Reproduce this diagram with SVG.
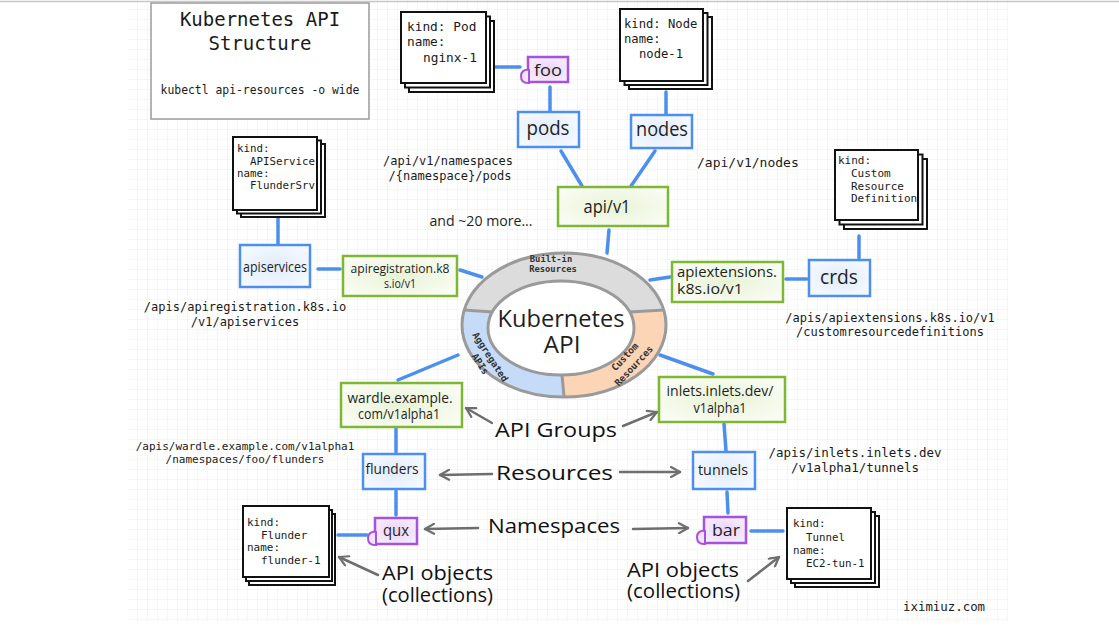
<svg xmlns="http://www.w3.org/2000/svg" width="1119" height="628" viewBox="0 0 1119 628">
<defs>
<pattern id="grid" width="10" height="10" patternUnits="userSpaceOnUse" x="128" y="0">
<path d="M10,0 V10 M0,10 H10" fill="none" stroke="#ededed" stroke-width="1"/>
</pattern>
<radialGradient id="gBlue" cx="0.5" cy="0.5" r="0.65"><stop offset="0" stop-color="#dfebfc"/><stop offset="1" stop-color="#f8fbff"/></radialGradient>
<radialGradient id="gGreen" cx="0.5" cy="0.5" r="0.65"><stop offset="0" stop-color="#e8f3d6"/><stop offset="1" stop-color="#fbfdf6"/></radialGradient>
<radialGradient id="gPurple" cx="0.5" cy="0.5" r="0.65"><stop offset="0" stop-color="#ead3f8"/><stop offset="1" stop-color="#f8effd"/></radialGradient>
<marker id="arr" viewBox="0 0 12 12" markerWidth="12" markerHeight="12" refX="10.5" refY="6" orient="auto" markerUnits="userSpaceOnUse">
<path d="M1.5,1 L10.5,6 L1.5,11" fill="none" stroke="#6e6e6e" stroke-width="2.2" stroke-linecap="round" stroke-linejoin="round"/>
</marker>
</defs>
<style>
.mono{font-family:"DejaVu Sans Mono","Liberation Mono",monospace;fill:#1a1a1a}
.monob{font-family:"DejaVu Sans Mono","Liberation Mono",monospace;font-weight:bold;fill:#333}
.hand{font-family:"Open Sans","Noto Sans",sans-serif;fill:#1f1f1f;text-anchor:middle}
.big{font-family:"Open Sans","Noto Sans",sans-serif;fill:#111;font-size:20px}
.doc rect{fill:#fff;stroke:#111;stroke-width:2}
.blue{fill:url(#gBlue);stroke:#4d8fee;stroke-width:2.5}
.green{fill:url(#gGreen);stroke:#7db733;stroke-width:2.5}
.purple{fill:url(#gPurple);stroke:#a552dc;stroke-width:2.5}
.curl{fill:#f3e4fb;stroke:#a552dc;stroke-width:2}
#connectors line{stroke:#4d8fee;stroke-width:3.5;stroke-linecap:round}
#arrows line{stroke:#6e6e6e;stroke-width:2.5;stroke-linecap:round;marker-end:url(#arr)}
.ring{fill:none;stroke:#9a9a9a;stroke-width:3}
</style>

<rect x="0" y="0" width="1119" height="628" fill="#fff"/>
<rect x="128" y="0" width="880" height="622" fill="url(#grid)"/>
<line x1="0" y1="1.5" x2="1119" y2="1.5" stroke="#c8c8c8" stroke-width="1.5"/>

<g id="title">
<rect x="151" y="3" width="218" height="116" fill="#fff" stroke="#9a9a9a" stroke-width="1.5"/>
<text class="mono" font-size="19" text-anchor="middle" x="260" y="26">Kubernetes API</text>
<text class="mono" font-size="19" text-anchor="middle" x="260" y="50">Structure</text>
<text class="mono" font-size="11.4" text-anchor="middle" x="260" y="94">kubectl api-resources -o wide</text>
</g>

<g id="connectors">
<line x1="495" y1="67" x2="520" y2="67"/>
<line x1="550" y1="87" x2="550" y2="111"/>
<line x1="666" y1="92" x2="666" y2="114"/>
<line x1="561" y1="151" x2="582" y2="186"/>
<line x1="655" y1="151" x2="631" y2="186"/>
<line x1="609" y1="230" x2="607" y2="253"/>
<line x1="278" y1="218" x2="278" y2="244"/>
<line x1="318" y1="269" x2="340" y2="269"/>
<line x1="460" y1="270" x2="482" y2="277"/>
<line x1="650" y1="280" x2="670" y2="277"/>
<line x1="786" y1="279" x2="807" y2="279"/>
<line x1="859" y1="236" x2="859" y2="258"/>
<line x1="458" y1="355" x2="398" y2="380"/>
<line x1="396" y1="429" x2="396" y2="452"/>
<line x1="396" y1="491" x2="396" y2="515"/>
<line x1="338" y1="535" x2="367" y2="535"/>
<line x1="660" y1="355" x2="713" y2="374"/>
<line x1="724" y1="424" x2="726" y2="451"/>
<line x1="727" y1="492" x2="728" y2="513"/>
<line x1="751" y1="531" x2="783" y2="531"/>
</g>

<g id="arrows">
<line x1="492" y1="423" x2="466" y2="408"/>
<line x1="623" y1="426" x2="657" y2="412"/>
<line x1="492" y1="474" x2="440" y2="475"/>
<line x1="620" y1="472" x2="680" y2="472"/>
<line x1="478" y1="528" x2="425" y2="529"/>
<line x1="633" y1="529" x2="688" y2="528"/>
<line x1="378" y1="575" x2="339" y2="557"/>
<line x1="748" y1="581" x2="779" y2="557"/>
</g>

<g id="kubernetes-api">
<path d="M464.2,310 A102,72 0 0 1 663.8,310 L629.6,311.9 A73,47 0 0 0 492.4,311.9 Z" fill="#dcdcdc"/>
<path d="M464.2,310 A102,72 0 0 0 564,397 L561,375 A73,47 0 0 1 492.4,311.9 Z" fill="#c5dbf7"/>
<path d="M564,397 A102,72 0 0 0 663.8,310 L629.6,311.9 A73,47 0 0 1 561,375 Z" fill="#fcd5b6"/>
<ellipse class="ring" cx="564" cy="325" rx="102" ry="72"/>
<ellipse class="ring" cx="561" cy="328" rx="73" ry="47" style="fill:#fff"/>
<line class="ring" x1="464.2" y1="310" x2="492.4" y2="311.9"/>
<line class="ring" x1="663.8" y1="310" x2="629.6" y2="311.9"/>
<line class="ring" x1="564" y1="397" x2="562" y2="375"/>
<text class="monob" font-size="8.8" text-anchor="middle" x="551" y="262">Built-in</text>
<text class="monob" font-size="8.8" text-anchor="middle" x="553" y="272">Resources</text>
<text class="monob" font-size="9.5" text-anchor="middle" transform="translate(490,357) rotate(57)" y="3">Aggregated</text>
<text class="monob" font-size="9.5" text-anchor="middle" transform="translate(480,364) rotate(57)" y="3">APIs</text>
<text class="monob" font-size="9.5" text-anchor="middle" transform="translate(625,357) rotate(-47)" y="3">Custom</text>
<text class="monob" font-size="9.5" text-anchor="middle" transform="translate(634,366) rotate(-47)" y="3">Resources</text>
<text class="hand" font-size="24" x="561" y="327" textLength="127" lengthAdjust="spacingAndGlyphs">Kubernetes</text>
<text class="hand" font-size="24" x="562" y="353" textLength="37" lengthAdjust="spacingAndGlyphs">API</text>
</g>

<g id="doc-pod" class="doc">
<rect x="409" y="21" width="85" height="71"/>
<rect x="405" y="16.5" width="85" height="71"/>
<rect x="401" y="12" width="85" height="71"/>
<text class="mono" font-size="12.8" x="407" y="31">kind: Pod</text>
<text class="mono" font-size="12.8" x="407" y="46">name:</text>
<text class="mono" font-size="12.8" x="423" y="62">nginx-1</text>
</g>

<g id="ns-foo">
<rect class="purple" x="528" y="57" width="40" height="25"/>
<path class="curl" d="M529,70 C524,69 521,72 521,76 C521,81 524,83 528,83 L529,83 Z"/>
<text class="hand" font-size="17" x="548" y="76" textLength="28" lengthAdjust="spacingAndGlyphs">foo</text>
</g>

<g id="doc-node" class="doc">
<rect x="629" y="17" width="83" height="72"/>
<rect x="624.5" y="13" width="83" height="72"/>
<rect x="620" y="9" width="83" height="72"/>
<text class="mono" font-size="12.2" x="624" y="28">kind: Node</text>
<text class="mono" font-size="12.2" x="624" y="43">name:</text>
<text class="mono" font-size="12.2" x="639" y="58">node-1</text>
</g>

<g id="res-pods">
<rect class="blue" x="518" y="112" width="61" height="35"/>
<text class="hand" font-size="20" x="548" y="135" textLength="43" lengthAdjust="spacingAndGlyphs">pods</text>
</g>

<g id="res-nodes">
<rect class="blue" x="631" y="115" width="61" height="33"/>
<text class="hand" font-size="20" x="662" y="136" textLength="52" lengthAdjust="spacingAndGlyphs">nodes</text>
</g>

<g id="path-pods">
<text class="mono" font-size="12" x="383" y="165">/api/v1/namespaces</text>
<text class="mono" font-size="12" x="450" y="180" text-anchor="middle">/{namespace}/pods</text>
</g>
<g id="path-nodes">
<text class="mono" font-size="13" x="697" y="167">/api/v1/nodes</text>
</g>

<g id="group-apiv1">
<rect class="green" x="558" y="187" width="110" height="39"/>
<text class="hand" font-size="19" x="607" y="213" textLength="47" lengthAdjust="spacingAndGlyphs">api/v1</text>
</g>

<g id="more">
<text class="hand" font-size="14" x="481" y="226" textLength="103" lengthAdjust="spacingAndGlyphs">and ~20 more...</text>
</g>

<g id="doc-apiservice" class="doc">
<rect x="241" y="144" width="84" height="73"/>
<rect x="237" y="140.5" width="84" height="73"/>
<rect x="233" y="137" width="84" height="73"/>
<text class="mono" font-size="10.8" x="237" y="152">kind:</text>
<text class="mono" font-size="10.8" x="250" y="165">APIService</text>
<text class="mono" font-size="10.8" x="237" y="177">name:</text>
<text class="mono" font-size="10.8" x="250" y="189">FlunderSrv</text>
</g>

<g id="res-apiservices">
<rect class="blue" x="240" y="245" width="70" height="42"/>
<text class="hand" font-size="15" x="275" y="272" textLength="64" lengthAdjust="spacingAndGlyphs">apiservices</text>
</g>

<g id="group-apiregistration">
<rect class="green" x="343" y="256" width="114" height="40"/>
<text class="hand" font-size="13" x="400" y="273" textLength="99" lengthAdjust="spacingAndGlyphs">apiregistration.k8</text>
<text class="hand" font-size="13" x="400" y="288" textLength="32" lengthAdjust="spacingAndGlyphs">s.io/v1</text>
</g>

<g id="path-apiservices">
<text class="mono" font-size="12" x="245" y="311" text-anchor="middle">/apis/apiregistration.k8s.io</text>
<text class="mono" font-size="12" x="245" y="326" text-anchor="middle">/v1/apiservices</text>
</g>

<g id="doc-crd" class="doc">
<rect x="844" y="159" width="83" height="70"/>
<rect x="839.5" y="154.5" width="83" height="70"/>
<rect x="835" y="150" width="83" height="70"/>
<text class="mono" font-size="11" x="838" y="164">kind:</text>
<text class="mono" font-size="11" x="851" y="177">Custom</text>
<text class="mono" font-size="11" x="851" y="190">Resource</text>
<text class="mono" font-size="11" x="851" y="202">Definition</text>
</g>

<g id="res-crds">
<rect class="blue" x="809" y="260" width="61" height="36"/>
<text class="hand" font-size="20" x="839" y="284" textLength="38" lengthAdjust="spacingAndGlyphs">crds</text>
</g>

<g id="group-apiextensions">
<rect class="green" x="672" y="262" width="111" height="40"/>
<text class="hand" font-size="15" x="727" y="277" textLength="100" lengthAdjust="spacingAndGlyphs">apiextensions.</text>
<text class="hand" font-size="15" x="710" y="294" textLength="66" lengthAdjust="spacingAndGlyphs">k8s.io/v1</text>
</g>

<g id="path-crds">
<text class="mono" font-size="12" x="890" y="322" text-anchor="middle">/apis/apiextensions.k8s.io/v1</text>
<text class="mono" font-size="12" x="890" y="336" text-anchor="middle">/customresourcedefinitions</text>
</g>

<g id="group-wardle">
<rect class="green" x="341" y="383" width="121" height="44"/>
<text class="hand" font-size="15" x="400" y="403" textLength="105" lengthAdjust="spacingAndGlyphs">wardle.example.</text>
<text class="hand" font-size="15" x="399" y="419" textLength="82" lengthAdjust="spacingAndGlyphs">com/v1alpha1</text>
</g>

<g id="res-flunders">
<rect class="blue" x="363" y="454" width="62" height="35"/>
<text class="hand" font-size="15" x="392" y="474" textLength="53" lengthAdjust="spacingAndGlyphs">flunders</text>
</g>

<g id="ns-qux">
<rect class="purple" x="375" y="518" width="42" height="26"/>
<path class="curl" d="M376,532 C371,531 368,534 368,538 C368,543 371,545 375,545 L376,545 Z"/>
<text class="hand" font-size="16" x="396" y="536" textLength="26" lengthAdjust="spacingAndGlyphs">qux</text>
</g>

<g id="path-flunders">
<text class="mono" font-size="11" x="245" y="450" text-anchor="middle">/apis/wardle.example.com/v1alpha1</text>
<text class="mono" font-size="11" x="245" y="463" text-anchor="middle">/namespaces/foo/flunders</text>
</g>

<g id="doc-flunder" class="doc">
<rect x="249" y="514" width="86" height="71"/>
<rect x="246" y="510" width="86" height="71"/>
<rect x="243" y="506" width="86" height="71"/>
<text class="mono" font-size="11" x="247" y="526">kind:</text>
<text class="mono" font-size="11" x="261" y="539">Flunder</text>
<text class="mono" font-size="11" x="247" y="551">name:</text>
<text class="mono" font-size="11" x="261" y="564">flunder-1</text>
</g>

<g id="group-inlets">
<rect class="green" x="659" y="377" width="126" height="45"/>
<text class="hand" font-size="15" x="720" y="396" textLength="107" lengthAdjust="spacingAndGlyphs">inlets.inlets.dev/</text>
<text class="hand" font-size="15" x="720" y="413" textLength="53" lengthAdjust="spacingAndGlyphs">v1alpha1</text>
</g>

<g id="res-tunnels">
<rect class="blue" x="693" y="452" width="62" height="37"/>
<text class="hand" font-size="15" x="723" y="475" textLength="50" lengthAdjust="spacingAndGlyphs">tunnels</text>
</g>

<g id="ns-bar">
<rect class="purple" x="704" y="517" width="42" height="26"/>
<path class="curl" d="M705,531 C700,530 697,533 697,537 C697,542 700,544 704,544 L705,544 Z"/>
<text class="hand" font-size="17" x="726" y="536" textLength="28" lengthAdjust="spacingAndGlyphs">bar</text>
</g>

<g id="path-tunnels">
<text class="mono" font-size="12.5" x="855" y="457" text-anchor="middle">/apis/inlets.inlets.dev</text>
<text class="mono" font-size="12.5" x="855" y="472" text-anchor="middle">/v1alpha1/tunnels</text>
</g>

<g id="doc-tunnel" class="doc">
<rect x="795" y="516" width="84" height="71"/>
<rect x="791" y="512" width="84" height="71"/>
<rect x="787" y="508" width="84" height="71"/>
<text class="mono" font-size="10.8" x="793" y="527">kind:</text>
<text class="mono" font-size="10.8" x="806" y="541">Tunnel</text>
<text class="mono" font-size="10.8" x="793" y="554">name:</text>
<text class="mono" font-size="10.8" x="806" y="567">EC2-tun-1</text>
</g>

<g id="labels">
<text class="big" x="495" y="437" textLength="122" lengthAdjust="spacingAndGlyphs">API Groups</text>
<text class="big" x="496" y="480" textLength="117" lengthAdjust="spacingAndGlyphs">Resources</text>
<text class="big" x="488" y="533" textLength="132" lengthAdjust="spacingAndGlyphs">Namespaces</text>
<text class="big" x="382" y="580" textLength="111" lengthAdjust="spacingAndGlyphs">API objects</text>
<text class="big" x="382" y="602" textLength="111" lengthAdjust="spacingAndGlyphs">(collections)</text>
<text class="big" x="627" y="577" textLength="112" lengthAdjust="spacingAndGlyphs">API objects</text>
<text class="big" x="627" y="598" textLength="113" lengthAdjust="spacingAndGlyphs">(collections)</text>
</g>

<g id="credit">
<text class="mono" font-size="12.4" x="903" y="611">iximiuz.com</text>
</g>
</svg>
